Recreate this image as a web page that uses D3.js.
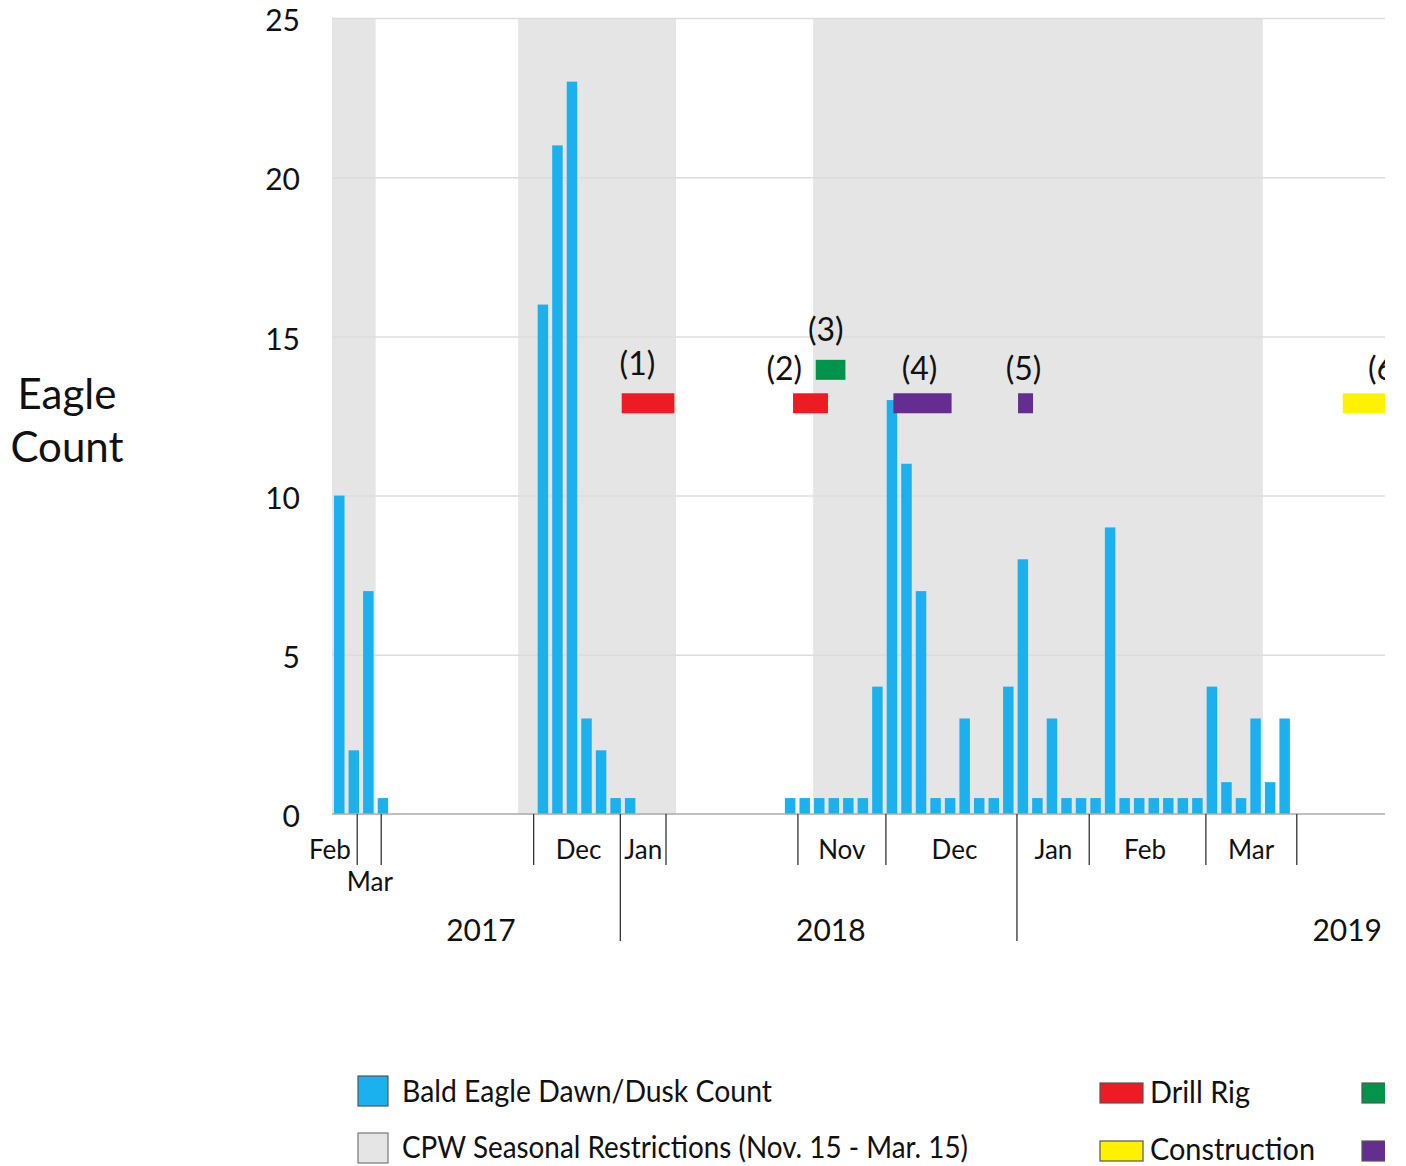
<!DOCTYPE html>
<meta charset="utf-8">
<style>
body { margin: 0; background: #fff; }
svg { display: block; font-family: Lato, "Open Sans", sans-serif; }
.grid line { stroke: #dcdcdc; stroke-width: 1.5px; }
.y-axis text { font-size: 30px; fill: #111; }
.month-axis line { stroke: #333; stroke-width: 1.3px; }
.month { font-size: 26px; fill: #111; }
.year { font-size: 30px; fill: #111; }
.event-label { font-size: 32px; fill: #111; }
.legend text { font-size: 30px; fill: #111; }
</style>
<svg width="1406" height="1166"></svg>
<script src="https://d3js.org/d3.v7.min.js"></script>
<script>

// x positions are in "weekly survey slots" along the broken time axis
var winter1Start = 0,
    winter1Counts = [10, 2, 7, 0.5];
var winter2Start = 14,
    winter2Counts = [16, 21, 23, 3, 2, 0.5, 0.5];
var winter3Start = 31,
    winter3Counts = [0.5, 0.5, 0.5, 0.5, 0.5, 0.5, 4, 13, 11, 7, 0.5, 0.5, 3, 0.5, 0.5, 4, 8,
                     0.5, 3, 0.5, 0.5, 0.5, 9, 0.5, 0.5, 0.5, 0.5, 0.5, 0.5, 4, 1, 0.5, 3, 1, 3];

// CPW seasonal restriction windows (slot start, slot end)
var restrictions = [[0, 3.0], [12.8, 23.65], [33.08, 64.0]];

// activity events: id, slot start, slot end, count level, type, label slot, label level
var eventIds    = ["(1)", "(2)", "(3)", "(4)", "(5)", "(6)"];
var eventStart  = [19.92, 31.7, 33.26, 38.6, 47.17, 69.5];
var eventEnd    = [23.54, 34.1, 35.3, 42.6, 48.2, 74];
var eventLevel  = [12.9, 12.9, 13.95, 12.9, 12.9, 12.9];
var eventType   = ["drill", "drill", "green", "purple", "purple", "construction"];
var eventLabelX = [21.0, 31.1, 33.95, 40.4, 47.55, 72.45];
var eventLabelY = [13.79, 13.63, 14.85, 13.63, 13.63, 13.63];

var typeColor = {
  drill: "#ed1c24",
  green: "#00934a",
  purple: "#662d91",
  construction: "#fff200"
};

// month boundary ticks along the axis
var shortTicks = [1.7, 3.35, 13.83, 22.93, 32.0, 38.05, 52.03, 60.05, 66.3];
var longTicks = [19.79, 47.06];
var monthNames = ["Feb", "Mar", "Dec", "Jan", "Nov", "Dec", "Jan", "Feb", "Mar"];
var monthPos   = [-0.14, 2.6, 16.95, 21.4, 35.05, 42.8, 49.6, 55.9, 63.2];
var monthRow   = [0, 1, 0, 0, 0, 0, 0, 0, 0];
var yearNames = ["2017", "2018", "2019"];
var yearPos   = [10.24, 34.3, 69.8];

var yTicks = [0, 5, 10, 15, 20, 25];

var svg = d3.select("svg");

var x = d3.scaleLinear().domain([0, 72.4]).range([332, 1385]);
var y = d3.scaleLinear().domain([0, 25]).range([814, 18]);
var slotW = x(1) - x(0);

// everything is cut at the right edge of the plot, like the source
svg.append("defs").append("clipPath").attr("id", "cut")
  .append("rect").attr("x", 0).attr("y", 0).attr("width", 1385).attr("height", 1166);

var g = svg.append("g").attr("clip-path", "url(#cut)");

// seasonal shading
g.selectAll("rect.season")
    .data(restrictions)
  .enter().append("rect")
    .attr("class", "season")
    .attr("x", function(d) { return x(d[0]); })
    .attr("width", function(d) { return x(d[1]) - x(d[0]); })
    .attr("y", y(25))
    .attr("height", y(0) - y(25))
    .attr("fill", "#e5e5e5");

// gridlines
g.append("g")
    .attr("class", "grid")
    .attr("transform", "translate(" + x(0) + ",0)")
    .call(d3.axisLeft(y).tickValues(yTicks.slice(1)).tickSize(-(x.range()[1] - x(0))).tickFormat(""))
    .call(function(s) { s.select(".domain").remove(); });

// y tick labels
svg.append("g")
    .attr("class", "y-axis")
    .attr("transform", "translate(300,3)")
    .call(d3.axisLeft(y).tickValues(yTicks).tickSize(0).tickPadding(0))
    .call(function(s) {
      s.select(".domain").remove();
      s.selectAll("text").attr("font-family", "Lato, sans-serif");
    });

// bars
var bars = [];
[[winter1Start, winter1Counts], [winter2Start, winter2Counts], [winter3Start, winter3Counts]]
  .forEach(function(w) {
    w[1].forEach(function(v, i) { bars.push({slot: w[0] + i, value: v}); });
  });

var barW = slotW * 0.72;
g.selectAll("rect.bar")
    .data(bars)
  .enter().append("rect")
    .attr("class", "bar")
    .attr("x", function(d) { return x(d.slot + 0.5) - barW / 2; })
    .attr("width", barW)
    .attr("y", function(d) { return y(d.value); })
    .attr("height", function(d) { return y(0) - y(d.value); })
    .attr("fill", "#1bb0ee");

// baseline
g.append("line")
    .attr("x1", x(0)).attr("x2", x.range()[1])
    .attr("y1", y(0)).attr("y2", y(0))
    .attr("stroke", "#aaa").attr("stroke-width", 1.5);

// month ticks
g.append("g")
    .attr("class", "month-axis")
    .attr("transform", "translate(0," + y(0) + ")")
    .call(d3.axisBottom(x).tickValues(shortTicks).tickSize(51).tickFormat(""))
    .call(function(s) { s.select(".domain").remove(); });

g.append("g")
    .attr("class", "month-axis")
    .attr("transform", "translate(0," + y(0) + ")")
    .call(d3.axisBottom(x).tickValues(longTicks).tickSize(127).tickFormat(""))
    .call(function(s) { s.select(".domain").remove(); });

svg.selectAll("text.month")
    .data(monthNames)
  .enter().append("text")
    .attr("class", "month")
    .attr("x", function(d, i) { return x(monthPos[i]); })
    .attr("y", function(d, i) { return monthRow[i] ? 891 : 859; })
    .attr("text-anchor", "middle")
    .text(function(d) { return d; });

svg.selectAll("text.year")
    .data(yearNames)
  .enter().append("text")
    .attr("class", "year")
    .attr("x", function(d, i) { return x(yearPos[i]); })
    .attr("y", 941)
    .attr("text-anchor", "middle")
    .text(function(d) { return d; });

// event bars and labels
var events = eventIds.map(function(id, i) {
  return {id: id, x0: eventStart[i], x1: eventEnd[i], level: eventLevel[i],
          type: eventType[i], lx: eventLabelX[i], ly: eventLabelY[i]};
});

g.selectAll("rect.event")
    .data(events)
  .enter().append("rect")
    .attr("class", "event")
    .attr("x", function(d) { return x(d.x0); })
    .attr("width", function(d) { return x(d.x1) - x(d.x0); })
    .attr("y", function(d) { return y(d.level) - 10; })
    .attr("height", 20)
    .attr("fill", function(d) { return typeColor[d.type]; });

g.selectAll("text.event-label")
    .data(events)
  .enter().append("text")
    .attr("class", "event-label")
    .attr("x", function(d) { return x(d.lx); })
    .attr("y", function(d) { return y(d.ly); })
    .attr("text-anchor", "middle")
    .text(function(d) { return d.id; });

// y title
svg.append("text")
    .attr("x", 67).attr("y", 409)
    .attr("text-anchor", "middle")
    .style("font-size", "42px").style("fill", "#111")
    .text("Eagle");
svg.append("text")
    .attr("x", 67).attr("y", 462)
    .attr("text-anchor", "middle")
    .style("font-size", "42px").style("fill", "#111")
    .text("Count");

// legend
var legend = g.append("g").attr("class", "legend");

legend.append("rect").attr("x", 358).attr("y", 1076).attr("width", 30).attr("height", 30)
    .attr("fill", "#1bb0ee").attr("stroke", "#555").attr("stroke-width", 1.2);
legend.append("text").attr("x", 402).attr("y", 1102)
    .attr("textLength", 370).attr("lengthAdjust", "spacingAndGlyphs")
    .text("Bald Eagle Dawn/Dusk Count");

legend.append("rect").attr("x", 358).attr("y", 1133).attr("width", 30).attr("height", 30)
    .attr("fill", "#e5e5e5").attr("stroke", "#777").attr("stroke-width", 1.2);
legend.append("text").attr("x", 402).attr("y", 1158)
    .attr("textLength", 566).attr("lengthAdjust", "spacingAndGlyphs")
    .text("CPW Seasonal Restrictions (Nov. 15 - Mar. 15)");

legend.append("rect").attr("x", 1100).attr("y", 1083).attr("width", 43).attr("height", 20)
    .attr("fill", typeColor.drill).attr("stroke", "#555").attr("stroke-width", 1.2);
legend.append("text").attr("x", 1150).attr("y", 1103)
    .attr("textLength", 100).attr("lengthAdjust", "spacingAndGlyphs")
    .text("Drill Rig");

legend.append("rect").attr("x", 1100).attr("y", 1141).attr("width", 43).attr("height", 20)
    .attr("fill", typeColor.construction).attr("stroke", "#555").attr("stroke-width", 1.2);
legend.append("text").attr("x", 1150).attr("y", 1160)
    .attr("textLength", 165).attr("lengthAdjust", "spacingAndGlyphs")
    .text("Construction");

legend.append("rect").attr("x", 1362).attr("y", 1083).attr("width", 43).attr("height", 20)
    .attr("fill", typeColor.green).attr("stroke", "#555").attr("stroke-width", 1.2);
legend.append("rect").attr("x", 1362).attr("y", 1141).attr("width", 43).attr("height", 20)
    .attr("fill", typeColor.purple).attr("stroke", "#555").attr("stroke-width", 1.2);

</script>
